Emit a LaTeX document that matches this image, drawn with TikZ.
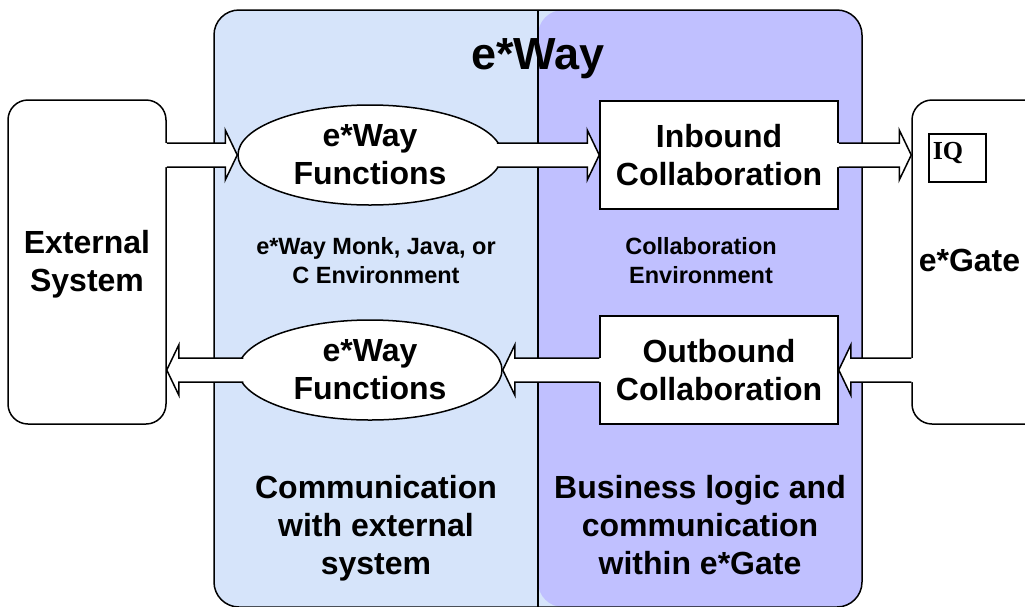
\documentclass[tikz,border=0pt]{standalone}
\usepackage{fontspec}
\setmainfont{Liberation Sans}
\newfontfamily\iqfont{Liberation Serif}
\usetikzlibrary{calc,shapes.geometric}
\definecolor{waybg}{RGB}{214,228,250}
\definecolor{collbg}{RGB}{192,192,255}
\newcommand\blockarrow[2]{%
  \coordinate (ba-s) at ($(#1)!-2pt!(#2)$);
  \coordinate (ba-b) at ($(#2)!12pt!(#1)$);
  \fill[white] ($(ba-s)!12pt!90:(#2)$) -- ($(ba-b)!12pt!90:(#2)$) -- ($(ba-b)!25pt!90:(#2)$) -- (#2)
    -- ($(ba-b)!25pt!-90:(#2)$) -- ($(ba-b)!12pt!-90:(#2)$) -- ($(ba-s)!12pt!-90:(#2)$) -- cycle;
  \draw ($(#1)!12pt!90:(#2)$) -- ($(ba-b)!12pt!90:(#2)$) -- ($(ba-b)!25pt!90:(#2)$) -- (#2)
    -- ($(ba-b)!25pt!-90:(#2)$) -- ($(ba-b)!12pt!-90:(#2)$) -- ($(#1)!12pt!-90:(#2)$);
}
\begin{document}
\begin{tikzpicture}[x=1pt,y=-1pt,line width=1.5pt,
    big/.style={font=\bfseries\fontsize{32}{38}\selectfont,align=center},
    small/.style={font=\bfseries\fontsize{23.5}{29}\selectfont,align=center},
    sysbox/.style={draw,fill=white,rounded corners=20pt,minimum width=158pt,minimum height=324pt,inner sep=0pt},
    collbox/.style={draw,fill=white,minimum width=238pt,minimum height=108pt,inner sep=0pt},
    fnell/.style={draw,fill=white,ellipse,minimum width=264pt,minimum height=100pt,inner sep=0pt}]
    \useasboundingbox (0,0) rectangle (1025,606);

    \node[draw,fill=waybg,rounded corners=25pt,minimum width=648pt,minimum height=597pt,
        path picture={
            \fill[collbg] (path picture bounding box.north) rectangle (path picture bounding box.south east);
            \draw[line width=1.5pt] (path picture bounding box.north) -- (path picture bounding box.south);
        }] (eway) at (538,308.5) {};
    \node[font=\bfseries\fontsize{45}{45}\selectfont] (title) at (538,59) {e*Way};

    \node[sysbox,big] (ext) at (87,262) {};
    \node[big] (exttxt) at (87,264) {External\\System};
    \node[sysbox,minimum width=133pt] (gate) at (978.5,262) {};
    \node[big,anchor=west,inner sep=0pt] (gatetxt) at (918,260) {e*Gate};
    \node[draw,fill=white,font=\iqfont\bfseries\fontsize{26}{26}\selectfont,anchor=north west,
        inner xsep=4pt,inner ysep=4pt,text width=49pt,align=left,text height=22pt,text depth=18pt] (iq) at (928,133) {IQ};

    \node[fnell,big] (fn1) at (370,155) {e*Way\\Functions};
    \node[collbox,big] (inb) at (719,155) {Inbound\\Collaboration};
    \node[collbox,big] (outb) at (719,370) {Outbound\\Collaboration};
    \node[fnell,big] (fn2) at (370,370) {e*Way\\Functions};

    \node[small] (envl) at (376,261) {e*Way Monk, Java, or\\C Environment};
    \node[small] (envr) at (701,261) {Collaboration\\Environment};
    \node[big] (comm) at (376,528) {Communication\\with external\\system};
    \node[big] (biz) at (700,525) {Business logic and\\communication\\within e*Gate};

    \coordinate (t1) at (ext.east |- fn1.west);
    \coordinate (t2) at ($(fn1.east)+(-6,0)$);
    \coordinate (h3) at (inb.east -| gate.west);
    \coordinate (t4) at (gate.west |- outb.east);
    \coordinate (t6) at ($(fn2.west)+(6,0)$);
    \coordinate (h6) at (fn2.west -| ext.east);
    \foreach \s/\t in {t1/fn1.west,t2/inb.west,inb.east/h3,t4/outb.east,outb.west/fn2.east,t6/h6} {
        \blockarrow{\s}{\t}
    }
\end{tikzpicture}
\end{document}
